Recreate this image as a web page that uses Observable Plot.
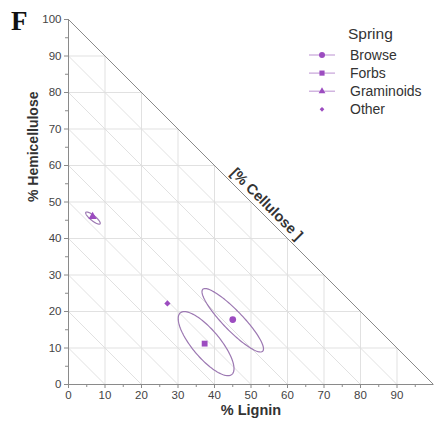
<!DOCTYPE html>
<html>
<head>
<meta charset="utf-8">
<script src="https://cdn.jsdelivr.net/npm/d3@7"></script>
<script src="https://cdn.jsdelivr.net/npm/@observablehq/plot@0.6"></script>
<style>
  body { margin: 0; background: #fff; }
  #chart { position: relative; width: 435px; height: 421px; }
  #panel { position: absolute; left: 11px; top: 6px; font: bold 27px "Liberation Serif", "DejaVu Serif", serif; color: #111; }
</style>
</head>
<body>
<div id="chart"><div id="panel">F</div></div>
<script>
// Spring forage classes: mean fibre fractions (% of total fibre)
const groups = ["Browse", "Forbs", "Graminoids", "Other"];
const groupSymbols = ["circle", "square", "triangle", "diamond2"];
const groupSizes = [3, 2.9, 2.5, 2.1];
const lignin = [45.0, 37.3, 6.6, 27.1];
const hemicellulose = [17.8, 11.2, 46.0, 22.2];

// Confidence ellipses: centre, semi-axes (in % units) and orientation (degrees)
const ellipseGroups = ["Browse", "Forbs", "Graminoids"];
const ellipseLignin = [45.0, 37.7, 6.7];
const ellipseHemi = [17.6, 11.2, 45.6];
const ellipseMajor = [11.8, 11.0, 2.5];
const ellipseMinor = [2.7, 3.8, 0.7];
const ellipseAngle = [-46, -50, -39];

// Axis ticks
const majorTicksX = [0, 10, 20, 30, 40, 50, 60, 70, 80, 90];
const majorTicksY = [0, 10, 20, 30, 40, 50, 60, 70, 80, 90, 100];
const minorTicks = [5, 15, 25, 35, 45, 55, 65, 75, 85, 95];
const gridTicks = [10, 20, 30, 40, 50, 60, 70, 80, 90];

const purple = "#9c4cc0";
const ellipseStroke = "#9c78b2";
const gridColor = "#dedede";
const font = "'Liberation Sans', Arial, Helvetica, sans-serif";

const points = groups.map((g, i) => ({
  group: g, symbol: groupSymbols[i], r: groupSizes[i],
  lignin: lignin[i], hemi: hemicellulose[i]
}));

// Outline of each ellipse, traced in data units
const ellipsePath = ellipseGroups.flatMap((g, i) => {
  const a = ellipseMajor[i], b = ellipseMinor[i];
  const t = ellipseAngle[i] * Math.PI / 180;
  return d3.range(0, 121).map(k => {
    const u = k / 120 * 2 * Math.PI;
    const ex = a * Math.cos(u), ey = b * Math.sin(u);
    return {
      group: g,
      lignin: ellipseLignin[i] + ex * Math.cos(t) - ey * Math.sin(t),
      hemi: ellipseHemi[i] + ex * Math.sin(t) + ey * Math.cos(t)
    };
  });
});

const chart = Plot.plot({
  width: 435,
  height: 421,
  marginLeft: 68,
  marginRight: 2,
  marginTop: 19,
  marginBottom: 37,
  style: { fontFamily: font, background: "#fff" },
  x: { domain: [0, 100] },
  y: { domain: [0, 100] },
  symbol: { domain: groupSymbols, range: groupSymbols },
  marks: [
    // triangular grid: constant lignin, hemicellulose and cellulose lines
    Plot.link(gridTicks, { x1: d => d, y1: 0, x2: d => d, y2: d => 100 - d, stroke: gridColor, strokeWidth: 0.9 }),
    Plot.link(gridTicks, { x1: 0, y1: d => d, x2: d => 100 - d, y2: d => d, stroke: gridColor, strokeWidth: 0.9 }),
    Plot.link(gridTicks, { x1: 0, y1: d => d, x2: d => d, y2: 0, stroke: gridColor, strokeWidth: 0.9 }),
    // hypotenuse: 0 % cellulose
    Plot.link([100], { x1: 0, y1: d => d, x2: d => d, y2: 0, stroke: "#8a8a8a", strokeWidth: 1 }),
    // axis lines
    Plot.ruleY([0], { x1: 0, x2: 100, stroke: "#8a8a8a" }),
    Plot.ruleX([0], { y1: 0, y2: 100, stroke: "#8a8a8a" }),
    Plot.axisX(majorTicksX, { tickSize: 4, tickPadding: 2, fontSize: 11.5, stroke: "#8a8a8a", fill: "#444", label: null }),
    Plot.axisX(minorTicks, { tickSize: 3, text: null, stroke: "#8a8a8a", label: null }),
    Plot.axisY(majorTicksY, { tickSize: 4, tickPadding: 3, fontSize: 11.5, stroke: "#8a8a8a", fill: "#444", label: null }),
    Plot.axisY(minorTicks, { tickSize: 3, text: null, stroke: "#8a8a8a", label: null }),
    // axis titles
    Plot.text(["% Lignin"], { frameAnchor: "bottom", lineAnchor: "middle", dy: 26, fontWeight: "bold", fontSize: 14.5, fill: "#333" }),
    Plot.text(["% Hemicellulose"], { frameAnchor: "left", dx: -35, rotate: -90, fontWeight: "bold", fontSize: 14, fill: "#333" }),
    Plot.text(["[% Cellulose ]"], { x: 52.4, y: 47.6, dx: 6.8, dy: -6.8, rotate: 45, fontWeight: "bold", fontSize: 14.5, fill: "#333" }),
    // ellipses and group means
    Plot.line(ellipsePath, { x: "lignin", y: "hemi", z: "group", stroke: ellipseStroke, strokeWidth: 1.2, curve: "linear" }),
    Plot.dot(points, { x: "lignin", y: "hemi", symbol: "symbol", r: "r", fill: purple, stroke: "none" })
  ]
});

// Legend in the upper right corner
const svg = d3.select(chart);
const legend = svg.append("g").attr("font-family", font).attr("fill", "#333").attr("text-anchor", "start");
legend.append("text").attr("x", 348).attr("y", 34).attr("dy", "0.35em")
  .attr("font-size", 15.5).text("Spring");
const legendSymbols = { circle: d3.symbolCircle, square: d3.symbolSquare, triangle: d3.symbolTriangle, diamond2: d3.symbolDiamond2 };
groups.forEach((g, i) => {
  const y = 55 + i * 18.1;
  if (i < 3) {
    legend.append("line").attr("x1", 309).attr("x2", 335).attr("y1", y).attr("y2", y)
      .attr("stroke", "#c6a3d8").attr("stroke-width", 1.2);
  }
  const r = groupSizes[i];
  legend.append("path").attr("transform", `translate(322,${y})`)
    .attr("d", d3.symbol(legendSymbols[groupSymbols[i]], Math.PI * r * r)()).attr("fill", purple);
  legend.append("text").attr("x", 350).attr("y", y).attr("dy", "0.35em")
    .attr("font-size", 14).text(g);
});

document.getElementById("chart").appendChild(chart);
</script>
</body>
</html>
